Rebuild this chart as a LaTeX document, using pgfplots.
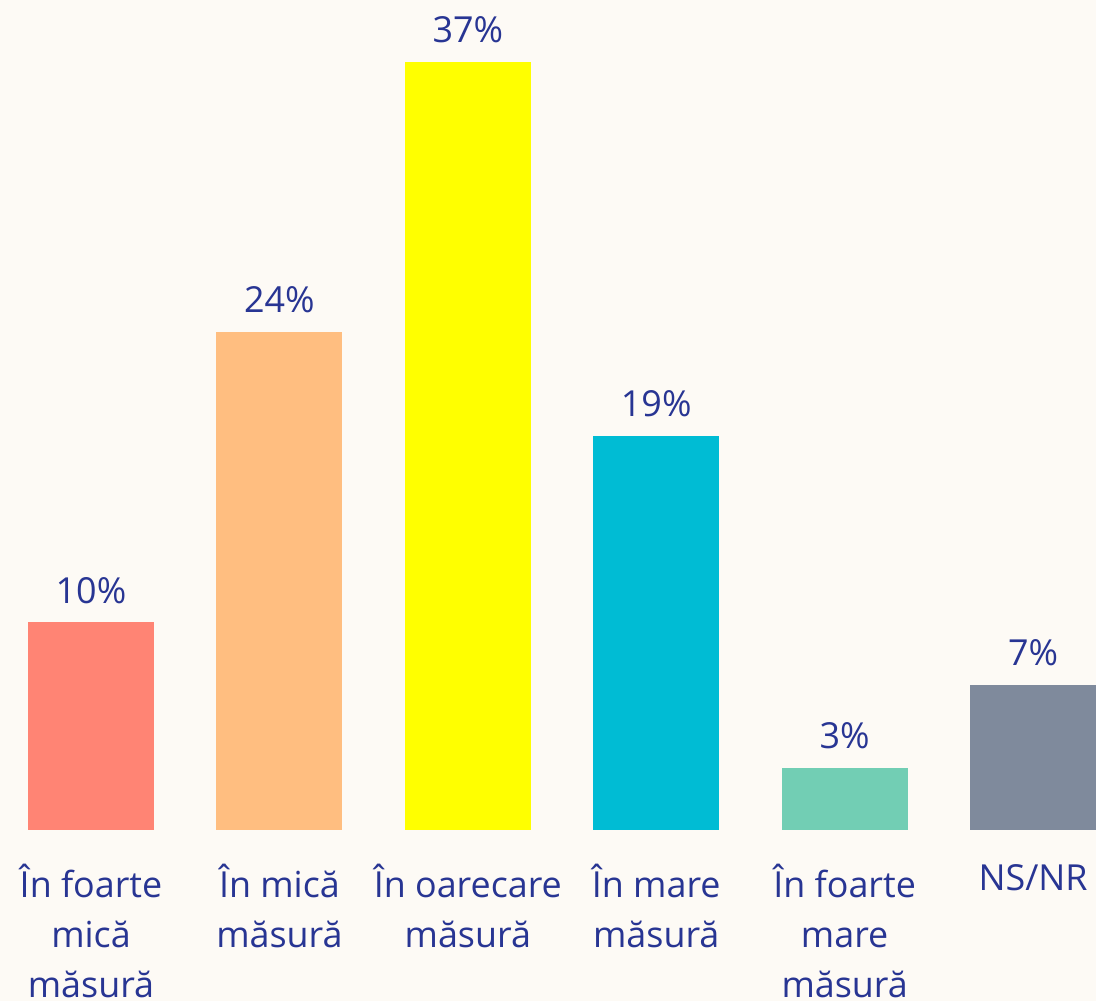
\documentclass[border=0pt]{standalone}
\usepackage{pgfplots}
\pgfplotsset{compat=1.18}
\usepackage{fontspec}
\setmainfont{Open Sans}
\definecolor{bg}{HTML}{FDFAF5}
\definecolor{txt}{HTML}{283593}
\definecolor{c1}{HTML}{FF8474}
\definecolor{c2}{HTML}{FFBE80}
\definecolor{c3}{HTML}{FFFF00}
\definecolor{c4}{HTML}{00BCD4}
\definecolor{c5}{HTML}{72CEB4}
\definecolor{c6}{HTML}{7F8A9C}
\begin{document}
\begin{tikzpicture}
\fill[bg] (0,0) rectangle (548bp,500.5bp);
\begin{axis}[
  at={(0bp,85.5bp)}, anchor=south west,
  scale only axis, width=548bp, height=415bp,
  xmin=-0.483, xmax=5.334, ymin=0, ymax=40,
  axis line style={draw=none}, major tick length=0pt,
  ytick=\empty,
  xtick={0,1,2,3,4,5},
  xticklabels={{În foarte\\mică\\măsură},{În mică\\măsură},{În oarecare\\măsură},{În mare\\măsură},{În foarte\\mare\\măsură},{NS/NR}},
  xticklabel style={align=center, font=\fontsize{18}{25}\selectfont, text=txt, anchor=north, yshift=-13.5bp},
  ybar, bar width=63bp, bar shift=0pt,
  clip=false,
  /pgf/number format/assume math mode=true,
  nodes near coords={\pgfmathprintnumber{\pgfplotspointmeta}\%},
  every node near coord/.append style={font=\fontsize{18}{25}\selectfont, text=txt, anchor=south, yshift=6bp},
]
\addplot[fill=c1, draw=none] coordinates {(0,10)};
\addplot[fill=c2, draw=none] coordinates {(1,24)};
\addplot[fill=c3, draw=none] coordinates {(2,37)};
\addplot[fill=c4, draw=none] coordinates {(3,19)};
\addplot[fill=c5, draw=none] coordinates {(4,3)};
\addplot[fill=c6, draw=none] coordinates {(5,7)};
\end{axis}
\pgfresetboundingbox
\useasboundingbox (0,0) rectangle (548bp,500.5bp);
\end{tikzpicture}
\end{document}
